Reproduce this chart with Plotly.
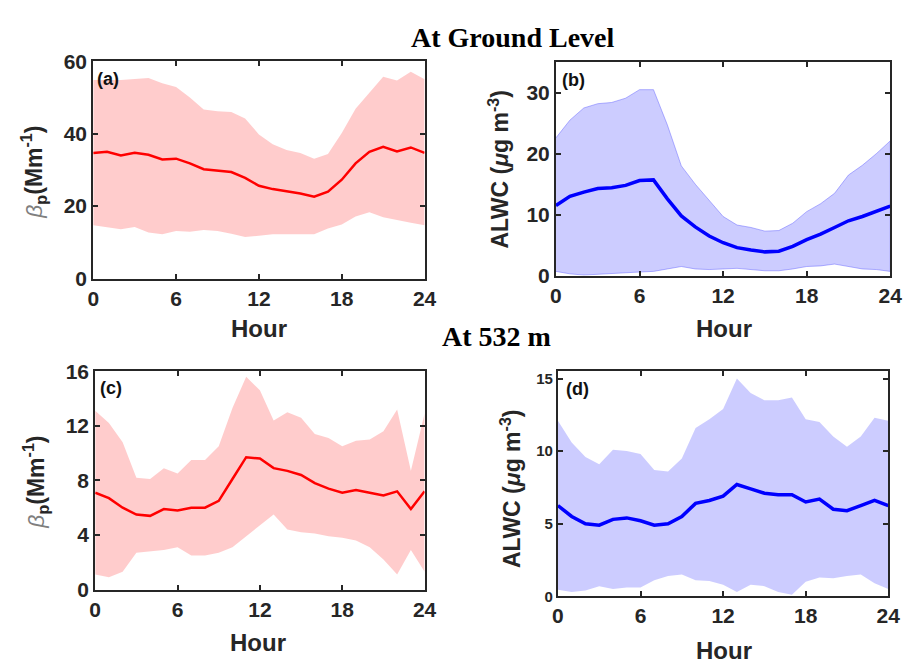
import plotly.graph_objects as go

hours = list(range(25))

# (a) ground-level beta_p
a_mean = [34.7, 35.0, 34.0, 34.7, 34.2, 32.9, 33.1, 31.8, 30.2, 29.8, 29.4, 27.8, 25.6, 24.7, 24.2, 23.5, 22.6, 24.0, 27.3, 31.8, 35.0, 36.4, 35.1, 36.2, 34.7]
a_upper = [54.8, 54.7, 54.8, 55.1, 55.4, 53.9, 52.9, 50.0, 46.7, 46.2, 46.0, 44.2, 39.8, 37.1, 35.5, 34.7, 33.1, 34.4, 40.2, 46.9, 51.3, 55.7, 54.7, 57.1, 55.0]
a_lower = [14.7, 14.2, 13.6, 14.2, 12.7, 12.2, 13.1, 12.9, 13.4, 13.1, 12.4, 11.5, 11.8, 12.2, 12.4, 12.2, 12.2, 13.8, 14.9, 17.1, 18.3, 16.9, 16.1, 15.4, 14.7]

# (b) ground-level ALWC
b_mean = [11.5, 13.0, 13.7, 14.3, 14.4, 14.8, 15.6, 15.7, 12.6, 9.8, 8.0, 6.5, 5.4, 4.6, 4.2, 3.9, 4.0, 4.8, 5.9, 6.8, 7.9, 9.0, 9.7, 10.6, 11.4]
b_upper = [22.6, 25.5, 27.5, 28.2, 28.4, 29.1, 30.5, 30.5, 24.7, 18.0, 15.0, 12.3, 9.7, 8.3, 7.9, 7.3, 7.4, 8.6, 10.5, 11.8, 13.5, 16.5, 18.1, 20.0, 22.1]
b_lower = [0.7, 0.3, 0.1, 0.2, 0.3, 0.5, 0.6, 0.7, 1.1, 1.5, 1.1, 1.0, 1.1, 1.2, 1.0, 0.8, 0.8, 1.1, 1.5, 1.6, 1.9, 1.5, 1.1, 1.0, 0.7]

# (c) 532 m beta_p
c_mean = [7.1, 6.7, 6.0, 5.5, 5.4, 5.9, 5.8, 6.0, 6.0, 6.5, 8.1, 9.7, 9.6, 8.9, 8.7, 8.4, 7.8, 7.4, 7.1, 7.3, 7.1, 6.9, 7.2, 5.9, 7.2]
c_upper = [13.1, 12.2, 10.8, 8.2, 8.1, 8.9, 8.5, 9.5, 9.5, 10.5, 13.3, 15.6, 14.6, 12.4, 13.0, 12.6, 11.4, 11.1, 10.5, 10.9, 11.0, 11.6, 13.2, 8.7, 12.9]
c_lower = [1.1, 0.9, 1.3, 2.7, 2.8, 2.9, 3.1, 2.5, 2.5, 2.7, 3.1, 3.9, 4.7, 5.5, 4.4, 4.2, 4.1, 3.9, 3.8, 3.6, 3.1, 2.2, 1.1, 2.9, 1.3]

# (d) 532 m ALWC
d_mean = [6.25, 5.5, 5.0, 4.9, 5.3, 5.4, 5.2, 4.9, 5.0, 5.5, 6.4, 6.6, 6.9, 7.7, 7.4, 7.1, 7.0, 7.0, 6.5, 6.7, 6.0, 5.9, 6.25, 6.6, 6.25]
d_upper = [12.1, 10.6, 9.6, 9.1, 10.1, 10.0, 9.8, 8.7, 8.6, 9.5, 11.6, 12.2, 12.9, 15.0, 14.0, 13.5, 13.5, 13.7, 12.2, 12.0, 11.0, 10.3, 11.0, 12.3, 12.1]
d_lower = [0.45, 0.3, 0.4, 0.7, 0.5, 0.6, 0.6, 1.1, 1.4, 1.5, 1.1, 1.05, 0.8, 0.3, 0.8, 0.7, 0.3, 0.1, 1.0, 1.3, 1.25, 1.4, 1.5, 0.9, 0.5]

x_ticks = [0, 6, 12, 18, 24]
panel_labels = ["(a)", "(b)", "(c)", "(d)"]
titles = ["At Ground Level", "At 532 m"]

W, H = 915, 672
# panel boxes in pixels: left, right, top, bottom
boxes = [(89, 427, 51, 276), (561, 902, 52, 273), (91, 427, 372, 598), (563, 900, 372, 605)]
yranges = [[0, 60], [0, 35], [0, 16], [0, 15.5]]
yticks = [[0, 20, 40, 60], [0, 10, 20, 30], [0, 4, 8, 12, 16], [0, 5, 10, 15]]
ytick_size = [21, 21, 21, 15]

RED_LINE = "#ff0000"
RED_FILL = "rgba(255,0,0,0.2)"
BLUE_LINE = "#0000ff"
BLUE_FILL = "rgba(0,0,255,0.2)"
FRAME = "#262626"
FONT = "Liberation Sans"

series = [
    (a_mean, a_upper, a_lower, RED_LINE, RED_FILL, None, 2.5),
    (b_mean, b_upper, b_lower, BLUE_LINE, BLUE_FILL, "rgba(90,90,255,0.45)", 3.5),
    (c_mean, c_upper, c_lower, RED_LINE, RED_FILL, None, 2.5),
    (d_mean, d_upper, d_lower, BLUE_LINE, BLUE_FILL, None, 3.5),
]

fig = go.Figure()
layout = dict(
    width=W, height=H, margin=dict(l=0, r=0, t=0, b=0),
    paper_bgcolor="white", plot_bgcolor="white", showlegend=False,
)

for i, (mean, up, lo, lc, fc, ec, lw) in enumerate(series):
    xa = "x" if i == 0 else f"x{i+1}"
    ya = "y" if i == 0 else f"y{i+1}"
    poly_x = hours + hours[::-1]
    poly_y = up + lo[::-1]
    fig.add_trace(go.Scatter(
        x=poly_x, y=poly_y, fill="toself", fillcolor=fc, mode="lines",
        line=dict(color=ec if ec else "rgba(0,0,0,0)", width=1 if ec else 0),
        hoverinfo="skip", xaxis=xa, yaxis=ya))
    fig.add_trace(go.Scatter(
        x=hours, y=mean, mode="lines", line=dict(color=lc, width=lw),
        xaxis=xa, yaxis=ya))
    l, r, t, b = boxes[i]
    xk = "xaxis" if i == 0 else f"xaxis{i+1}"
    yk = "yaxis" if i == 0 else f"yaxis{i+1}"
    layout[xk] = dict(
        domain=[l / W, r / W], anchor=ya, range=[0, 24],
        tickvals=x_ticks, ticks="inside", ticklen=5, tickwidth=1.5, tickcolor=FRAME,
        showline=True, linecolor=FRAME, linewidth=2, mirror="ticks",
        showgrid=False, zeroline=False,
        tickfont=dict(family=FONT, size=21, color=FRAME, weight="bold"),
    )
    layout[yk] = dict(
        domain=[1 - b / H, 1 - t / H], anchor=xa, range=yranges[i],
        tickvals=yticks[i], ticks="inside", ticklen=5, tickwidth=1.5, tickcolor=FRAME,
        showline=True, linecolor=FRAME, linewidth=2, mirror="ticks",
        showgrid=False, zeroline=False,
        tickfont=dict(family=FONT, size=ytick_size[i], color=FRAME, weight="bold"),
    )

fig.update_layout(**layout)

def ann(text, x, y, size, angle=0, family=FONT, color=FRAME, bold=True, xanchor="center"):
    fig.add_annotation(
        text=text, x=x / W, y=1 - y / H, xref="paper", yref="paper",
        showarrow=False, textangle=angle, xanchor=xanchor, yanchor="middle",
        font=dict(family=family, size=size, color=color, weight="bold" if bold else "normal"))

# titles
ann(titles[0], 517, 26, 28, family="Liberation Serif", color="#000000")
ann(titles[1], 500, 336, 28, family="Liberation Serif", color="#000000")

# Hour labels
for (x, y) in [(258, 328), (732, 328), (257, 653), (732, 661)]:
    ann("Hour", x, y, 24)

# panel labels
for i, (x, y) in enumerate([(91, 69), (565, 70), (94, 389), (569, 390)]):
    ann(panel_labels[i], x, y, 18, xanchor="left", color="#111111")

beta_txt = ("<span style='color:#7f7f7f;font-weight:normal'><i>β</i></span><sub>p</sub>"
            "(Mm<sup>-1</sup>)")
alwc_txt = "ALWC (<i>μ</i>g m<sup>-3</sup>)"
ann(beta_txt, 28, 166, 23, angle=-90)
ann(alwc_txt, 503, 163, 23, angle=-90)
ann(beta_txt, 30, 487, 23, angle=-90)
ann(alwc_txt, 515, 493, 23, angle=-90)

fig.write_html("out.html")
